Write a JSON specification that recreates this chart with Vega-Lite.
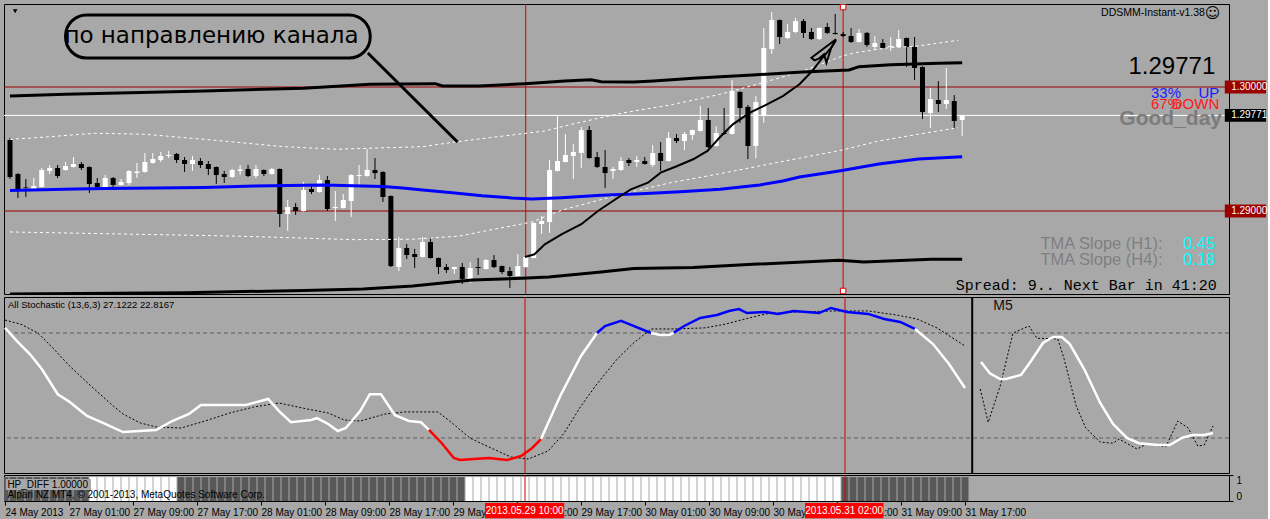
{
"$schema": "https://vega.github.io/schema/vega-lite/v6.json",
"background": "#a8a8a8",
"padding": {"left": 3, "top": 3, "right": 0, "bottom": 0},
"config": {
  "view": {"stroke": "#000000", "strokeWidth": 1, "fill": "#a8a8a8"},
  "axis": {"labelFont": "Liberation Sans", "labelFontSize": 10, "labelColor": "#000000", "tickColor": "#000000", "domain": false, "grid": false, "title": null},
  "text": {"font": "Liberation Sans"}
},
"datasets": {
  "one": [{}],
  "c": [
{"i":0,"o":1.29573,"h":1.29589,"l":1.29258,"c":1.29274,"hp":0},
{"i":1,"o":1.29298,"h":1.29306,"l":1.29105,"c":1.29177,"hp":0},
{"i":2,"o":1.29190,"h":1.29258,"l":1.29113,"c":1.29185,"hp":0},
{"i":3,"o":1.29177,"h":1.29266,"l":1.29170,"c":1.29202,"hp":0},
{"i":4,"o":1.29194,"h":1.29347,"l":1.29190,"c":1.29331,"hp":0},
{"i":5,"o":1.29323,"h":1.29371,"l":1.29298,"c":1.29347,"hp":0},
{"i":6,"o":1.29347,"h":1.29371,"l":1.29266,"c":1.29282,"hp":0},
{"i":7,"o":1.29331,"h":1.29395,"l":1.29325,"c":1.29363,"hp":0},
{"i":8,"o":1.29355,"h":1.29435,"l":1.29350,"c":1.29379,"hp":0},
{"i":9,"o":1.29379,"h":1.29395,"l":1.29331,"c":1.29347,"hp":0},
{"i":10,"o":1.29355,"h":1.29360,"l":1.29145,"c":1.29218,"hp":0},
{"i":11,"o":1.29226,"h":1.29266,"l":1.29190,"c":1.29194,"hp":1},
{"i":12,"o":1.29194,"h":1.29290,"l":1.29190,"c":1.29266,"hp":1},
{"i":13,"o":1.29266,"h":1.29274,"l":1.29185,"c":1.29210,"hp":1},
{"i":14,"o":1.29210,"h":1.29258,"l":1.29205,"c":1.29234,"hp":1},
{"i":15,"o":1.29226,"h":1.29328,"l":1.29210,"c":1.29323,"hp":1},
{"i":16,"o":1.29306,"h":1.29387,"l":1.29266,"c":1.29318,"hp":1},
{"i":17,"o":1.29315,"h":1.29468,"l":1.29310,"c":1.29395,"hp":1},
{"i":18,"o":1.29387,"h":1.29468,"l":1.29382,"c":1.29419,"hp":1},
{"i":19,"o":1.29411,"h":1.29476,"l":1.29395,"c":1.29444,"hp":1},
{"i":20,"o":1.29444,"h":1.29484,"l":1.29427,"c":1.29452,"hp":1},
{"i":21,"o":1.29460,"h":1.29468,"l":1.29387,"c":1.29411,"hp":1},
{"i":22,"o":1.29411,"h":1.29435,"l":1.29315,"c":1.29379,"hp":0},
{"i":23,"o":1.29379,"h":1.29444,"l":1.29323,"c":1.29411,"hp":0},
{"i":24,"o":1.29403,"h":1.29427,"l":1.29347,"c":1.29371,"hp":0},
{"i":25,"o":1.29379,"h":1.29403,"l":1.29290,"c":1.29339,"hp":0},
{"i":26,"o":1.29355,"h":1.29360,"l":1.29218,"c":1.29290,"hp":0},
{"i":27,"o":1.29298,"h":1.29323,"l":1.29226,"c":1.29274,"hp":0},
{"i":28,"o":1.29274,"h":1.29339,"l":1.29266,"c":1.29331,"hp":0},
{"i":29,"o":1.29323,"h":1.29371,"l":1.29290,"c":1.29335,"hp":0},
{"i":30,"o":1.29339,"h":1.29371,"l":1.29274,"c":1.29282,"hp":0},
{"i":31,"o":1.29282,"h":1.29371,"l":1.29266,"c":1.29339,"hp":0},
{"i":32,"o":1.29331,"h":1.29335,"l":1.29282,"c":1.29298,"hp":0},
{"i":33,"o":1.29298,"h":1.29347,"l":1.29294,"c":1.29339,"hp":0},
{"i":34,"o":1.29339,"h":1.29343,"l":1.28871,"c":1.28976,"hp":0},
{"i":35,"o":1.28976,"h":1.29089,"l":1.28839,"c":1.29032,"hp":0},
{"i":36,"o":1.29032,"h":1.29065,"l":1.28968,"c":1.29000,"hp":0},
{"i":37,"o":1.29000,"h":1.29234,"l":1.28995,"c":1.29169,"hp":0},
{"i":38,"o":1.29177,"h":1.29202,"l":1.29137,"c":1.29153,"hp":0},
{"i":39,"o":1.29153,"h":1.29290,"l":1.29148,"c":1.29250,"hp":0},
{"i":40,"o":1.29250,"h":1.29282,"l":1.29000,"c":1.29016,"hp":0},
{"i":41,"o":1.29024,"h":1.29161,"l":1.28919,"c":1.29032,"hp":0},
{"i":42,"o":1.29024,"h":1.29137,"l":1.29020,"c":1.29089,"hp":0},
{"i":43,"o":1.29081,"h":1.29298,"l":1.28952,"c":1.29290,"hp":0},
{"i":44,"o":1.29282,"h":1.29371,"l":1.29202,"c":1.29290,"hp":0},
{"i":45,"o":1.29282,"h":1.29500,"l":1.29278,"c":1.29331,"hp":0},
{"i":46,"o":1.29331,"h":1.29427,"l":1.29258,"c":1.29306,"hp":0},
{"i":47,"o":1.29315,"h":1.29320,"l":1.29073,"c":1.29113,"hp":0},
{"i":48,"o":1.29121,"h":1.29125,"l":1.28548,"c":1.28556,"hp":0},
{"i":49,"o":1.28548,"h":1.28790,"l":1.28516,"c":1.28702,"hp":0},
{"i":50,"o":1.28702,"h":1.28734,"l":1.28613,"c":1.28645,"hp":0},
{"i":51,"o":1.28653,"h":1.28694,"l":1.28540,"c":1.28629,"hp":0},
{"i":52,"o":1.28629,"h":1.28790,"l":1.28625,"c":1.28750,"hp":0},
{"i":53,"o":1.28750,"h":1.28790,"l":1.28617,"c":1.28621,"hp":0},
{"i":54,"o":1.28621,"h":1.28625,"l":1.28492,"c":1.28548,"hp":0},
{"i":55,"o":1.28548,"h":1.28573,"l":1.28500,"c":1.28524,"hp":0},
{"i":56,"o":1.28532,"h":1.28552,"l":1.28492,"c":1.28548,"hp":0},
{"i":57,"o":1.28548,"h":1.28581,"l":1.28411,"c":1.28452,"hp":0},
{"i":58,"o":1.28452,"h":1.28589,"l":1.28419,"c":1.28540,"hp":1},
{"i":59,"o":1.28548,"h":1.28621,"l":1.28484,"c":1.28540,"hp":1},
{"i":60,"o":1.28532,"h":1.28613,"l":1.28528,"c":1.28605,"hp":1},
{"i":61,"o":1.28605,"h":1.28645,"l":1.28540,"c":1.28548,"hp":1},
{"i":62,"o":1.28556,"h":1.28560,"l":1.28492,"c":1.28508,"hp":1},
{"i":63,"o":1.28516,"h":1.28548,"l":1.28379,"c":1.28476,"hp":1},
{"i":64,"o":1.28476,"h":1.28653,"l":1.28472,"c":1.28556,"hp":1},
{"i":65,"o":1.28548,"h":1.28633,"l":1.28544,"c":1.28629,"hp":1},
{"i":66,"o":1.28621,"h":1.28907,"l":1.28617,"c":1.28903,"hp":1},
{"i":67,"o":1.28895,"h":1.28960,"l":1.28815,"c":1.28919,"hp":1},
{"i":68,"o":1.28911,"h":1.29411,"l":1.28823,"c":1.29331,"hp":1},
{"i":69,"o":1.29323,"h":1.29774,"l":1.29319,"c":1.29403,"hp":1},
{"i":70,"o":1.29395,"h":1.29621,"l":1.29391,"c":1.29452,"hp":1},
{"i":71,"o":1.29444,"h":1.29540,"l":1.29258,"c":1.29476,"hp":1},
{"i":72,"o":1.29468,"h":1.29677,"l":1.29347,"c":1.29653,"hp":1},
{"i":73,"o":1.29653,"h":1.29685,"l":1.29423,"c":1.29427,"hp":1},
{"i":74,"o":1.29435,"h":1.29476,"l":1.29347,"c":1.29355,"hp":1},
{"i":75,"o":1.29355,"h":1.29492,"l":1.29185,"c":1.29306,"hp":1},
{"i":76,"o":1.29323,"h":1.29355,"l":1.29258,"c":1.29339,"hp":1},
{"i":77,"o":1.29331,"h":1.29435,"l":1.29323,"c":1.29403,"hp":1},
{"i":78,"o":1.29411,"h":1.29427,"l":1.29363,"c":1.29387,"hp":1},
{"i":79,"o":1.29395,"h":1.29444,"l":1.29355,"c":1.29411,"hp":1},
{"i":80,"o":1.29403,"h":1.29435,"l":1.29375,"c":1.29379,"hp":1},
{"i":81,"o":1.29371,"h":1.29532,"l":1.29355,"c":1.29468,"hp":1},
{"i":82,"o":1.29468,"h":1.29556,"l":1.29323,"c":1.29403,"hp":1},
{"i":83,"o":1.29403,"h":1.29637,"l":1.29399,"c":1.29589,"hp":1},
{"i":84,"o":1.29589,"h":1.29621,"l":1.29548,"c":1.29564,"hp":1},
{"i":85,"o":1.29564,"h":1.29637,"l":1.29492,"c":1.29621,"hp":1},
{"i":86,"o":1.29613,"h":1.29657,"l":1.29573,"c":1.29653,"hp":1},
{"i":87,"o":1.29645,"h":1.29847,"l":1.29641,"c":1.29734,"hp":1},
{"i":88,"o":1.29734,"h":1.29831,"l":1.29508,"c":1.29516,"hp":1},
{"i":89,"o":1.29524,"h":1.29685,"l":1.29520,"c":1.29629,"hp":1},
{"i":90,"o":1.29629,"h":1.29831,"l":1.29617,"c":1.29621,"hp":1},
{"i":91,"o":1.29621,"h":1.30056,"l":1.29617,"c":1.29968,"hp":1},
{"i":92,"o":1.29960,"h":1.29964,"l":1.29710,"c":1.29831,"hp":1},
{"i":93,"o":1.29839,"h":1.29855,"l":1.29419,"c":1.29524,"hp":1},
{"i":94,"o":1.29524,"h":1.29927,"l":1.29427,"c":1.29879,"hp":1},
{"i":95,"o":1.29766,"h":1.30476,"l":1.29710,"c":1.30315,"hp":1},
{"i":96,"o":1.30306,"h":1.30605,"l":1.30266,"c":1.30540,"hp":1},
{"i":97,"o":1.30540,"h":1.30544,"l":1.30347,"c":1.30403,"hp":1},
{"i":98,"o":1.30395,"h":1.30508,"l":1.30387,"c":1.30444,"hp":1},
{"i":99,"o":1.30444,"h":1.30556,"l":1.30436,"c":1.30532,"hp":1},
{"i":100,"o":1.30532,"h":1.30548,"l":1.30395,"c":1.30436,"hp":1},
{"i":101,"o":1.30444,"h":1.30476,"l":1.30379,"c":1.30387,"hp":1},
{"i":102,"o":1.30387,"h":1.30480,"l":1.30379,"c":1.30476,"hp":1},
{"i":103,"o":1.30484,"h":1.30516,"l":1.30427,"c":1.30436,"hp":1},
{"i":104,"o":1.30436,"h":1.30589,"l":1.30423,"c":1.30427,"hp":1},
{"i":105,"o":1.30427,"h":1.30444,"l":1.30403,"c":1.30411,"hp":0},
{"i":106,"o":1.30411,"h":1.30476,"l":1.30355,"c":1.30363,"hp":0},
{"i":107,"o":1.30363,"h":1.30468,"l":1.30359,"c":1.30436,"hp":0},
{"i":108,"o":1.30436,"h":1.30444,"l":1.30323,"c":1.30339,"hp":0},
{"i":109,"o":1.30323,"h":1.30411,"l":1.30298,"c":1.30355,"hp":0},
{"i":110,"o":1.30355,"h":1.30387,"l":1.30311,"c":1.30315,"hp":0},
{"i":111,"o":1.30323,"h":1.30403,"l":1.30290,"c":1.30331,"hp":0},
{"i":112,"o":1.30323,"h":1.30460,"l":1.30315,"c":1.30387,"hp":0},
{"i":113,"o":1.30395,"h":1.30399,"l":1.30161,"c":1.30323,"hp":0},
{"i":114,"o":1.30323,"h":1.30403,"l":1.30056,"c":1.30153,"hp":0},
{"i":115,"o":1.30161,"h":1.30169,"l":1.29742,"c":1.29798,"hp":0},
{"i":116,"o":1.29790,"h":1.29992,"l":1.29669,"c":1.29903,"hp":0},
{"i":117,"o":1.29895,"h":1.30048,"l":1.29798,"c":1.29863,"hp":0},
{"i":118,"o":1.29863,"h":1.30153,"l":1.29823,"c":1.29895,"hp":0},
{"i":119,"o":1.29887,"h":1.29935,"l":1.29661,"c":1.29726,"hp":0},
{"i":120,"o":1.29734,"h":1.29774,"l":1.29605,"c":1.29771,"hp":0}
  ],
  "ln": [
{"k":"mid","i":0,"p":1.29165},{"k":"mid","i":8.25,"p":1.29177},{"k":"mid","i":12,"p":1.29181},{"k":"mid","i":24.5,"p":1.29190},{"k":"mid","i":30.75,"p":1.29202},{"k":"mid","i":39.5,"p":1.29210},{"k":"mid","i":47,"p":1.29198},{"k":"mid","i":49.5,"p":1.29185},{"k":"mid","i":52,"p":1.29169},{"k":"mid","i":55.75,"p":1.29148},{"k":"mid","i":59.5,"p":1.29123},{"k":"mid","i":63.25,"p":1.29105},{"k":"mid","i":65.75,"p":1.29097},{"k":"mid","i":69.5,"p":1.29107},{"k":"mid","i":74.5,"p":1.29127},{"k":"mid","i":79.5,"p":1.29140},{"k":"mid","i":84.5,"p":1.29156},{"k":"mid","i":89.5,"p":1.29175},{"k":"mid","i":94.5,"p":1.29210},{"k":"mid","i":97.4,"p":1.29242},{"k":"mid","i":99.5,"p":1.29274},{"k":"mid","i":104.5,"p":1.29323},{"k":"mid","i":109.5,"p":1.29379},{"k":"mid","i":114.5,"p":1.29419},{"k":"mid","i":120,"p":1.29438},
{"k":"up","i":0,"p":1.29927},{"k":"up","i":7,"p":1.29941},{"k":"up","i":24.5,"p":1.29968},{"k":"up","i":37,"p":1.29990},{"k":"up","i":45.4,"p":1.30022},{"k":"up","i":53.6,"p":1.30027},{"k":"up","i":54.5,"p":1.30008},{"k":"up","i":59.1,"p":1.30008},{"k":"up","i":64.9,"p":1.30027},{"k":"up","i":69.9,"p":1.30048},{"k":"up","i":73.25,"p":1.30059},{"k":"up","i":74.5,"p":1.30043},{"k":"up","i":78.6,"p":1.30040},{"k":"up","i":81.1,"p":1.30048},{"k":"up","i":86.1,"p":1.30070},{"k":"up","i":93.6,"p":1.30097},{"k":"up","i":99.9,"p":1.30121},{"k":"up","i":105.75,"p":1.30137},{"k":"up","i":107,"p":1.30164},{"k":"up","i":111,"p":1.30180},{"k":"up","i":117,"p":1.30191},{"k":"up","i":120,"p":1.30196},
{"k":"lo","i":0,"p":1.28331},{"k":"lo","i":22,"p":1.28341},{"k":"lo","i":37,"p":1.28359},{"k":"lo","i":44.5,"p":1.28371},{"k":"lo","i":50.75,"p":1.28395},{"k":"lo","i":54.5,"p":1.28419},{"k":"lo","i":58.25,"p":1.28444},{"k":"lo","i":64.5,"p":1.28457},{"k":"lo","i":67.9,"p":1.28468},{"k":"lo","i":74.5,"p":1.28508},{"k":"lo","i":78.6,"p":1.28536},{"k":"lo","i":86.1,"p":1.28544},{"k":"lo","i":93.6,"p":1.28570},{"k":"lo","i":104.5,"p":1.28602},{"k":"lo","i":107.6,"p":1.28589},{"k":"lo","i":116.1,"p":1.28610},{"k":"lo","i":120,"p":1.28610},
{"k":"bu","i":0,"p":1.29578},{"k":"bu","i":3.25,"p":1.29591},{"k":"bu","i":10.75,"p":1.29627},{"k":"bu","i":17,"p":1.29619},{"k":"bu","i":24.5,"p":1.29578},{"k":"bu","i":34.5,"p":1.29519},{"k":"bu","i":41.1,"p":1.29498},{"k":"bu","i":52,"p":1.29519},{"k":"bu","i":56.4,"p":1.29559},{"k":"bu","i":60.4,"p":1.29591},{"k":"bu","i":67.4,"p":1.29645},{"k":"bu","i":70.75,"p":1.29699},{"k":"bu","i":77,"p":1.29788},{"k":"bu","i":83.6,"p":1.29860},{"k":"bu","i":89.5,"p":1.29941},{"k":"bu","i":94.9,"p":1.30035},{"k":"bu","i":99.9,"p":1.30129},{"k":"bu","i":104.9,"p":1.30250},{"k":"bu","i":106.6,"p":1.30277},{"k":"bu","i":110.75,"p":1.30317},{"k":"bu","i":114.5,"p":1.30331},{"k":"bu","i":119.5,"p":1.30377},
{"k":"bl","i":0,"p":1.28831},{"k":"bl","i":12,"p":1.28817},{"k":"bl","i":28.25,"p":1.28798},{"k":"bl","i":43.25,"p":1.28769},{"k":"bl","i":50.75,"p":1.28772},{"k":"bl","i":56.6,"p":1.28798},{"k":"bl","i":61.6,"p":1.28860},{"k":"bl","i":65.75,"p":1.28911},{"k":"bl","i":69.5,"p":1.29006},{"k":"bl","i":77,"p":1.29135},{"k":"bl","i":83.25,"p":1.29228},{"k":"bl","i":89.5,"p":1.29301},{"k":"bl","i":97,"p":1.29395},{"k":"bl","i":104.9,"p":1.29492},{"k":"bl","i":109.5,"p":1.29565},{"k":"bl","i":114.5,"p":1.29619},{"k":"bl","i":119.5,"p":1.29672},
{"k":"trend","i":64.9,"p":1.28629},{"k":"trend","i":66.1,"p":1.28651},{"k":"trend","i":67.4,"p":1.28731},{"k":"trend","i":69.5,"p":1.28812},{"k":"trend","i":72,"p":1.28893},{"k":"trend","i":74.1,"p":1.29000},{"k":"trend","i":76.6,"p":1.29107},{"k":"trend","i":78.25,"p":1.29175},{"k":"trend","i":80.4,"p":1.29228},{"k":"trend","i":82,"p":1.29309},{"k":"trend","i":84.1,"p":1.29363},{"k":"trend","i":86.1,"p":1.29417},{"k":"trend","i":87.9,"p":1.29484},{"k":"trend","i":89.5,"p":1.29597},{"k":"trend","i":91.1,"p":1.29699},{"k":"trend","i":93.25,"p":1.29793},{"k":"trend","i":95.4,"p":1.29860},{"k":"trend","i":97.4,"p":1.29927},{"k":"trend","i":99.5,"p":1.30022},{"k":"trend","i":101.1,"p":1.30129},{"k":"trend","i":102.4,"p":1.30236},{"k":"trend","i":103.5,"p":1.30317},{"k":"trend","i":104.1,"p":1.30377},
{"k":"arrow","n":0,"i":104.1,"p":1.30385},{"k":"arrow","n":1,"i":101,"p":1.30236},{"k":"arrow","n":2,"i":101.4,"p":1.30215},{"k":"arrow","n":3,"i":102,"p":1.30231},{"k":"arrow","n":4,"i":102.6,"p":1.30264},{"k":"arrow","n":5,"i":102.9,"p":1.30196},{"k":"arrow","n":6,"i":103.5,"p":1.30317},{"k":"arrow","n":7,"i":104.1,"p":1.30385},
{"k":"lead","i":45.1,"p":1.30274},{"k":"lead","i":56.4,"p":1.29556}
  ],
  "st": [
{"g":"a","k":"main","i":0,"v":82.9},{"g":"a","k":"main","i":1.5,"v":75.4},{"g":"a","k":"main","i":3.1,"v":68},{"g":"a","k":"main","i":4.6,"v":59.4},{"g":"a","k":"main","i":6.6,"v":45},{"g":"a","k":"main","i":8.1,"v":40.6},{"g":"a","k":"main","i":10.25,"v":32.6},{"g":"a","k":"main","i":12.25,"v":28.6},{"g":"a","k":"main","i":14.75,"v":23.4},{"g":"a","k":"main","i":18.9,"v":24.6},{"g":"a","k":"main","i":20.9,"v":29.7},{"g":"a","k":"main","i":23,"v":33.7},{"g":"a","k":"main","i":24.5,"v":38.9},{"g":"a","k":"main","i":30.1,"v":38.9},{"g":"a","k":"main","i":32.9,"v":42.3},{"g":"a","k":"main","i":34.25,"v":35.4},{"g":"a","k":"main","i":35.75,"v":29},{"g":"a","k":"main","i":38.25,"v":30.3},{"g":"a","k":"main","i":39,"v":31.4},{"g":"a","k":"main","i":40.4,"v":28},{"g":"a","k":"main","i":41.6,"v":24},{"g":"a","k":"main","i":42.6,"v":25.7},{"g":"a","k":"main","i":44.4,"v":35.4},{"g":"a","k":"main","i":45.6,"v":45},{"g":"a","k":"main","i":47,"v":45},{"g":"a","k":"main","i":48.75,"v":33},{"g":"a","k":"main","i":50.5,"v":29.7},{"g":"a","k":"main","i":52,"v":29},{"g":"a","k":"main","i":53,"v":24.6},
{"g":"b","k":"down","i":53,"v":24.6},{"g":"b","k":"down","i":54.6,"v":17},{"g":"b","k":"down","i":56.1,"v":8.6},{"g":"b","k":"down","i":56.9,"v":7.4},{"g":"b","k":"down","i":58.6,"v":8},{"g":"b","k":"down","i":60.5,"v":8.6},{"g":"b","k":"down","i":62.75,"v":7.4},{"g":"b","k":"down","i":64.5,"v":9.7},{"g":"b","k":"down","i":65.9,"v":14.3},{"g":"b","k":"down","i":67,"v":19.4},
{"g":"c","k":"main","i":67,"v":19.4},{"g":"c","k":"main","i":69.4,"v":44},{"g":"c","k":"main","i":72,"v":66.9},{"g":"c","k":"main","i":74,"v":80},
{"g":"d","k":"up","i":74,"v":80},{"g":"d","k":"up","i":75,"v":84},{"g":"d","k":"up","i":77,"v":86.9},{"g":"d","k":"up","i":78.25,"v":84.6},{"g":"d","k":"up","i":80.75,"v":80},
{"g":"e","k":"main","i":80.75,"v":80},{"g":"e","k":"main","i":81.9,"v":78.9},{"g":"e","k":"main","i":83.1,"v":79},{"g":"e","k":"main","i":83.6,"v":80.2},
{"g":"f","k":"up","i":83.6,"v":80.2},{"g":"f","k":"up","i":84.9,"v":84},{"g":"f","k":"up","i":86.9,"v":88.6},{"g":"f","k":"up","i":89,"v":90.3},{"g":"f","k":"up","i":90.5,"v":92.6},{"g":"f","k":"up","i":91.75,"v":93.7},{"g":"f","k":"up","i":92.75,"v":91.4},{"g":"f","k":"up","i":95.1,"v":92},{"g":"f","k":"up","i":96.6,"v":90.9},{"g":"f","k":"up","i":98.6,"v":92.6},{"g":"f","k":"up","i":101.75,"v":91.4},{"g":"f","k":"up","i":103.25,"v":94.3},{"g":"f","k":"up","i":105.25,"v":92},{"g":"f","k":"up","i":107.9,"v":90.9},{"g":"f","k":"up","i":109.9,"v":88},{"g":"f","k":"up","i":111.9,"v":86.3},{"g":"f","k":"up","i":113.75,"v":82.3},
{"g":"h","k":"main","i":113.75,"v":82.3},{"g":"h","k":"main","i":116,"v":73.7},{"g":"h","k":"main","i":118,"v":62.3},{"g":"h","k":"main","i":120,"v":48.6},
{"g":"m","k":"main","i":122,"v":63.4},{"g":"m","k":"main","i":123.1,"v":57},{"g":"m","k":"main","i":124.4,"v":53.7},{"g":"m","k":"main","i":125.1,"v":53.7},{"g":"m","k":"main","i":127,"v":56},{"g":"m","k":"main","i":128.25,"v":64},{"g":"m","k":"main","i":129.75,"v":74.3},{"g":"m","k":"main","i":131,"v":77.7},{"g":"m","k":"main","i":132.1,"v":77.7},{"g":"m","k":"main","i":133.1,"v":73.7},{"g":"m","k":"main","i":134.9,"v":59.4},{"g":"m","k":"main","i":136.9,"v":40},{"g":"m","k":"main","i":138.5,"v":28},{"g":"m","k":"main","i":140.25,"v":20},{"g":"m","k":"main","i":141.75,"v":17},{"g":"m","k":"main","i":144.1,"v":16},{"g":"m","k":"main","i":145.6,"v":16},{"g":"m","k":"main","i":147.1,"v":20},{"g":"m","k":"main","i":148.4,"v":21.7},{"g":"m","k":"main","i":149.9,"v":21.7},{"g":"m","k":"main","i":151,"v":22.9},
{"g":"s","k":"sig","i":0,"v":87.4},{"g":"s","k":"sig","i":2,"v":85},{"g":"s","k":"sig","i":4.1,"v":80},{"g":"s","k":"sig","i":6.1,"v":70.9},{"g":"s","k":"sig","i":8.1,"v":61},{"g":"s","k":"sig","i":10.75,"v":49.7},{"g":"s","k":"sig","i":13.25,"v":39.4},{"g":"s","k":"sig","i":14.75,"v":33.7},{"g":"s","k":"sig","i":16.9,"v":28.6},{"g":"s","k":"sig","i":18.9,"v":26.3},{"g":"s","k":"sig","i":22,"v":25.7},{"g":"s","k":"sig","i":25,"v":29.7},{"g":"s","k":"sig","i":28.1,"v":34.3},{"g":"s","k":"sig","i":31.1,"v":37.7},{"g":"s","k":"sig","i":34.25,"v":40},{"g":"s","k":"sig","i":37.75,"v":36.6},{"g":"s","k":"sig","i":40.4,"v":34.3},{"g":"s","k":"sig","i":42.4,"v":30.3},{"g":"s","k":"sig","i":44.4,"v":29.7},{"g":"s","k":"sig","i":47.5,"v":33.7},{"g":"s","k":"sig","i":50,"v":34.9},{"g":"s","k":"sig","i":54.1,"v":34.9},{"g":"s","k":"sig","i":55.6,"v":29.7},{"g":"s","k":"sig","i":58.1,"v":20},{"g":"s","k":"sig","i":60.75,"v":14.3},{"g":"s","k":"sig","i":63.25,"v":9.1},{"g":"s","k":"sig","i":65.4,"v":8},{"g":"s","k":"sig","i":67.9,"v":12.6},{"g":"s","k":"sig","i":69.9,"v":22.9},{"g":"s","k":"sig","i":72,"v":38.3},{"g":"s","k":"sig","i":74,"v":50.9},{"g":"s","k":"sig","i":76.5,"v":65},{"g":"s","k":"sig","i":78.5,"v":74},{"g":"s","k":"sig","i":80.75,"v":82.3},{"g":"s","k":"sig","i":83.4,"v":82.3},{"g":"s","k":"sig","i":87.4,"v":82.9},{"g":"s","k":"sig","i":90,"v":85},{"g":"s","k":"sig","i":92.5,"v":88},{"g":"s","k":"sig","i":95.1,"v":90.9},{"g":"s","k":"sig","i":98.6,"v":92},{"g":"s","k":"sig","i":103.75,"v":92.6},{"g":"s","k":"sig","i":107.9,"v":92.6},{"g":"s","k":"sig","i":111.4,"v":90.3},{"g":"s","k":"sig","i":114,"v":88},{"g":"s","k":"sig","i":116.5,"v":82.9},{"g":"s","k":"sig","i":118.5,"v":77},{"g":"s","k":"sig","i":120,"v":72.6},
{"g":"t","k":"sig","i":121.9,"v":48},{"g":"t","k":"sig","i":122.9,"v":29},{"g":"t","k":"sig","i":124.4,"v":49.7},{"g":"t","k":"sig","i":126,"v":80},{"g":"t","k":"sig","i":128,"v":84},{"g":"t","k":"sig","i":129,"v":77},{"g":"t","k":"sig","i":131.6,"v":76.6},{"g":"t","k":"sig","i":132.4,"v":65},{"g":"t","k":"sig","i":133.9,"v":38.3},{"g":"t","k":"sig","i":135.1,"v":25.7},{"g":"t","k":"sig","i":136.9,"v":17.7},{"g":"t","k":"sig","i":138.5,"v":17},{"g":"t","k":"sig","i":139.25,"v":19.4},{"g":"t","k":"sig","i":141.5,"v":13.7},{"g":"t","k":"sig","i":142.75,"v":16.6},{"g":"t","k":"sig","i":145.1,"v":14.9},{"g":"t","k":"sig","i":146.6,"v":29.7},{"g":"t","k":"sig","i":147.9,"v":25.7},{"g":"t","k":"sig","i":149.1,"v":15.4},{"g":"t","k":"sig","i":149.9,"v":16},{"g":"t","k":"sig","i":151,"v":26.9}
  ]
},
"spacing": 3,
"bounds": "flush",
"vconcat": [
{
  "width": 1225, "height": 290,
  "data": {"name": "c"},
  "layer": [
    {"data": {"name": "one"}, "mark": {"type": "rule", "color": "#9b0000", "strokeWidth": 1}, "encoding": {"y": {"datum": 1.3}}},
    {"data": {"name": "one"}, "mark": {"type": "rule", "color": "#9b0000", "strokeWidth": 1}, "encoding": {"y": {"datum": 1.29}}},
    {"data": {"name": "one"}, "mark": {"type": "rule", "color": "#ffffff", "strokeWidth": 1}, "encoding": {"y": {"datum": 1.29771}}},
    {"data": {"name": "one"}, "mark": {"type": "rule", "color": "#d40000", "strokeWidth": 1}, "encoding": {"x": {"datum": 65}}},
    {"data": {"name": "one"}, "mark": {"type": "rule", "color": "#d40000", "strokeWidth": 1}, "encoding": {"x": {"datum": 105}}},
    {"mark": {"type": "rule", "strokeWidth": 1, "clip": true},
     "encoding": {
       "x": {"field": "i", "type": "quantitative", "scale": {"domain": [-0.125, 153], "nice": false, "zero": false}, "axis": null},
       "y": {"field": "l", "type": "quantitative", "title": null, "scale": {"domain": [1.283306, 1.306694], "nice": false, "zero": false},
             "axis": {"orient": "right", "values": [1.2834, 1.28605, 1.28875, 1.2914, 1.2941, 1.29675, 1.29945, 1.3021, 1.3048], "format": ".5f", "tickSize": 4, "labelPadding": 3, "labelOverlap": false, "title": null}},
       "y2": {"field": "h"},
       "color": {"condition": {"test": "datum.c >= datum.o", "value": "#ffffff"}, "value": "#000000"}
     }},
    {"mark": {"type": "bar", "size": 5, "clip": true},
     "encoding": {
       "x": {"field": "i", "type": "quantitative", "axis": null},
       "y": {"field": "o", "type": "quantitative", "axis": null, "title": null},
       "y2": {"field": "c"},
       "color": {"condition": {"test": "datum.c >= datum.o", "value": "#ffffff"}, "value": "#000000"}
     }},
    {"data": {"name": "ln"}, "transform": [{"filter": "datum.k == 'bu' || datum.k == 'bl'"}],
     "mark": {"type": "line", "color": "#ffffff", "strokeWidth": 1, "strokeDash": [3, 3], "clip": true},
     "encoding": {"x": {"field": "i", "type": "quantitative", "axis": null}, "y": {"field": "p", "type": "quantitative", "axis": null, "title": null}, "detail": {"field": "k"}}},
    {"data": {"name": "ln"}, "transform": [{"filter": "datum.k == 'up' || datum.k == 'lo'"}],
     "mark": {"type": "line", "color": "#000000", "strokeWidth": 3, "clip": true},
     "encoding": {"x": {"field": "i", "type": "quantitative", "axis": null}, "y": {"field": "p", "type": "quantitative", "axis": null, "title": null}, "detail": {"field": "k"}}},
    {"data": {"name": "ln"}, "transform": [{"filter": "datum.k == 'mid'"}],
     "mark": {"type": "line", "color": "#0000ff", "strokeWidth": 3, "clip": true},
     "encoding": {"x": {"field": "i", "type": "quantitative", "axis": null}, "y": {"field": "p", "type": "quantitative", "axis": null, "title": null}}},
    {"data": {"name": "ln"}, "transform": [{"filter": "datum.k == 'trend'"}],
     "mark": {"type": "line", "color": "#000000", "strokeWidth": 2},
     "encoding": {"x": {"field": "i", "type": "quantitative", "axis": null}, "y": {"field": "p", "type": "quantitative", "axis": null, "title": null}}},
    {"data": {"name": "ln"}, "transform": [{"filter": "datum.k == 'arrow'"}],
     "mark": {"type": "line", "color": "#000000", "strokeWidth": 2},
     "encoding": {"x": {"field": "i", "type": "quantitative", "axis": null}, "y": {"field": "p", "type": "quantitative", "axis": null, "title": null}, "order": {"field": "n"}}},
    {"data": {"name": "ln"}, "transform": [{"filter": "datum.k == 'lead'"}],
     "mark": {"type": "line", "color": "#000000", "strokeWidth": 3},
     "encoding": {"x": {"field": "i", "type": "quantitative", "axis": null}, "y": {"field": "p", "type": "quantitative", "axis": null, "title": null}}},
    {"data": {"name": "one"}, "mark": {"type": "rect", "fill": "transparent", "stroke": "#000000", "strokeWidth": 3, "cornerRadius": 21},
     "encoding": {"x": {"datum": 7}, "x2": {"datum": 45.4}, "y": {"datum": 1.30581}, "y2": {"datum": 1.30234}}},
    {"data": {"name": "one"}, "mark": {"type": "point", "shape": "triangle-down", "size": 22, "filled": true, "color": "#000000", "opacity": 1},
     "encoding": {"x": {"datum": 0.65}, "y": {"datum": 1.30611}}},
    {"data": {"name": "one"}, "mark": {"type": "text", "text": "по направлению канала", "font": "DejaVu Sans", "fontSize": 23, "color": "#000000", "align": "center", "baseline": "middle"},
     "encoding": {"x": {"datum": 25.4}, "y": {"datum": 1.30411}}},
    {"data": {"name": "one"}, "mark": {"type": "text", "text": "DDSMM-Instant-v1.38", "fontSize": 10.5, "color": "#000000", "align": "right", "baseline": "middle"},
     "encoding": {"x": {"datum": 150.6}, "y": {"datum": 1.30597}}},
    {"data": {"name": "one"}, "mark": {"type": "text", "text": "☺", "font": "DejaVu Sans", "fontSize": 15, "color": "#000000", "align": "center", "baseline": "middle"},
     "encoding": {"x": {"datum": 151.55}, "y": {"datum": 1.30595}}},
    {"data": {"name": "one"}, "mark": {"type": "text", "text": "1.29771", "fontSize": 24, "color": "#000000", "align": "right", "baseline": "middle"},
     "encoding": {"x": {"datum": 151.9}, "y": {"datum": 1.30161}}},
    {"data": {"name": "one"}, "mark": {"type": "text", "text": "33%", "fontSize": 15, "color": "#1a1aff", "align": "left", "baseline": "middle"},
     "encoding": {"x": {"datum": 143.8}, "y": {"datum": 1.29952}}},
    {"data": {"name": "one"}, "mark": {"type": "text", "text": "UP", "fontSize": 15, "color": "#1a1aff", "align": "right", "baseline": "middle"},
     "encoding": {"x": {"datum": 152.4}, "y": {"datum": 1.29952}}},
    {"data": {"name": "one"}, "mark": {"type": "text", "text": "67%", "fontSize": 15, "color": "#ff1a1a", "align": "left", "baseline": "middle"},
     "encoding": {"x": {"datum": 143.8}, "y": {"datum": 1.29863}}},
    {"data": {"name": "one"}, "mark": {"type": "text", "text": "DOWN", "fontSize": 15, "color": "#ff1a1a", "align": "right", "baseline": "middle"},
     "encoding": {"x": {"datum": 152.4}, "y": {"datum": 1.29863}}},
    {"data": {"name": "one"}, "mark": {"type": "text", "text": "Good_day", "fontSize": 21, "fontWeight": "bold", "color": "#7c7c7c", "align": "right", "baseline": "middle"},
     "encoding": {"x": {"datum": 152.75}, "y": {"datum": 1.29742}}},
    {"data": {"name": "one"}, "mark": {"type": "text", "text": "TMA Slope (H1):", "fontSize": 16.5, "color": "#7f7f7f", "align": "right", "baseline": "middle"},
     "encoding": {"x": {"datum": 145.25}, "y": {"datum": 1.2873}}},
    {"data": {"name": "one"}, "mark": {"type": "text", "text": "0.45", "fontSize": 16.5, "color": "#00ffff", "align": "right", "baseline": "middle"},
     "encoding": {"x": {"datum": 151.9}, "y": {"datum": 1.2873}}},
    {"data": {"name": "one"}, "mark": {"type": "text", "text": "TMA Slope (H4):", "fontSize": 16.5, "color": "#7f7f7f", "align": "right", "baseline": "middle"},
     "encoding": {"x": {"datum": 145.25}, "y": {"datum": 1.28601}}},
    {"data": {"name": "one"}, "mark": {"type": "text", "text": "0.18", "fontSize": 16.5, "color": "#00ffff", "align": "right", "baseline": "middle"},
     "encoding": {"x": {"datum": 151.9}, "y": {"datum": 1.28601}}},
    {"data": {"name": "one"}, "mark": {"type": "text", "text": "Spread: 9.. Next Bar in 41:20", "font": "Liberation Mono", "fontSize": 15, "color": "#000000", "align": "right", "baseline": "middle"},
     "encoding": {"x": {"datum": 152.1}, "y": {"datum": 1.28403}}},
    {"data": {"name": "one"}, "mark": {"type": "rect", "fill": "#9b0000"},
     "encoding": {"x": {"datum": 153.1}, "x2": {"datum": 158.3}, "y": {"datum": 1.30052}, "y2": {"datum": 1.29948}}},
    {"data": {"name": "one"}, "mark": {"type": "rect", "fill": "#000000"},
     "encoding": {"x": {"datum": 153.1}, "x2": {"datum": 158.3}, "y": {"datum": 1.29823}, "y2": {"datum": 1.29719}}},
    {"data": {"name": "one"}, "mark": {"type": "rect", "fill": "#9b0000"},
     "encoding": {"x": {"datum": 153.1}, "x2": {"datum": 158.3}, "y": {"datum": 1.29052}, "y2": {"datum": 1.28948}}},
    {"data": {"name": "one"}, "mark": {"type": "text", "text": "1.30000", "fontSize": 10, "color": "#ffffff", "align": "left", "baseline": "middle"},
     "encoding": {"x": {"datum": 153.9}, "y": {"datum": 1.3}}},
    {"data": {"name": "one"}, "mark": {"type": "text", "text": "1.29771", "fontSize": 10, "color": "#ffffff", "align": "left", "baseline": "middle"},
     "encoding": {"x": {"datum": 153.9}, "y": {"datum": 1.29771}}},
    {"data": {"name": "one"}, "mark": {"type": "text", "text": "1.29000", "fontSize": 10, "color": "#ffffff", "align": "left", "baseline": "middle"},
     "encoding": {"x": {"datum": 153.9}, "y": {"datum": 1.29}}},
    {"data": {"name": "one"}, "mark": {"type": "point", "shape": "square", "size": 30, "filled": true, "fill": "#ffffff", "stroke": "#e00000", "strokeWidth": 1, "opacity": 1, "clip": true},
     "encoding": {"x": {"datum": 105}, "y": {"datum": 1.30645}}},
    {"data": {"name": "one"}, "mark": {"type": "point", "shape": "square", "size": 30, "filled": true, "fill": "#ffffff", "stroke": "#e00000", "strokeWidth": 1, "opacity": 1, "clip": true},
     "encoding": {"x": {"datum": 105}, "y": {"datum": 1.28355}}}
  ]
},
{
  "spacing": 2,
  "bounds": "flush",
  "vconcat": [
  {
    "width": 1225, "height": 176,
    "data": {"name": "st"},
    "layer": [
      {"data": {"name": "one"}, "mark": {"type": "rule", "color": "#5e5e5e", "strokeWidth": 1, "strokeDash": [4, 3]}, "encoding": {"y": {"datum": 80}}},
      {"data": {"name": "one"}, "mark": {"type": "rule", "color": "#5e5e5e", "strokeWidth": 1, "strokeDash": [4, 3]}, "encoding": {"y": {"datum": 20}}},
      {"data": {"name": "one"}, "mark": {"type": "rule", "color": "#d40000", "strokeWidth": 1}, "encoding": {"x": {"datum": 65}}},
      {"data": {"name": "one"}, "mark": {"type": "rule", "color": "#d40000", "strokeWidth": 1}, "encoding": {"x": {"datum": 105}}},
      {"data": {"name": "one"}, "mark": {"type": "rule", "color": "#000000", "strokeWidth": 2}, "encoding": {"x": {"datum": 120.9}}},
      {"transform": [{"filter": "datum.k == 'sig'"}],
       "mark": {"type": "line", "color": "#000000", "strokeWidth": 1, "strokeDash": [2, 2], "clip": true},
       "encoding": {
         "x": {"field": "i", "type": "quantitative", "scale": {"domain": [-0.125, 153], "nice": false, "zero": false}, "axis": null},
         "y": {"field": "v", "type": "quantitative", "title": null, "scale": {"domain": [0, 100.57], "nice": false, "zero": false},
               "axis": {"orient": "right", "values": [0, 20, 80, 100], "tickSize": 4, "labelPadding": 3, "labelFlush": true, "labelOverlap": false, "title": null}},
         "detail": {"field": "g"}
       }},
      {"transform": [{"filter": "datum.k != 'sig'"}],
       "mark": {"type": "line", "strokeWidth": 2.5, "clip": true},
       "encoding": {
         "x": {"field": "i", "type": "quantitative", "axis": null},
         "y": {"field": "v", "type": "quantitative", "axis": null, "title": null},
         "detail": {"field": "g"},
         "color": {"field": "k", "type": "nominal", "scale": {"domain": ["main", "up", "down"], "range": ["#ffffff", "#0000ff", "#ff0000"]}, "legend": null}
       }},
      {"data": {"name": "one"}, "mark": {"type": "text", "text": "All Stochastic (13,6,3) 27.1222 22.8167", "fontSize": 9.5, "color": "#000000", "align": "left", "baseline": "middle"},
       "encoding": {"x": {"datum": 0.375}, "y": {"datum": 96}}},
      {"data": {"name": "one"}, "mark": {"type": "text", "text": "M5", "fontSize": 14, "color": "#111111", "align": "center", "baseline": "middle"},
       "encoding": {"x": {"datum": 124.75}, "y": {"datum": 95.4}}}
    ]
  },
  {
    "width": 1225, "height": 26,
    "data": {"name": "c"},
    "layer": [
      {"mark": {"type": "rule", "strokeWidth": 7, "clip": true},
       "encoding": {
         "x": {"field": "i", "type": "quantitative", "scale": {"domain": [-0.125, 153], "nice": false, "zero": false},
               "axis": {"values": [0, 8, 16, 24, 32, 40, 48, 56, 64, 72, 80, 88, 96, 104, 112, 120],
                        "labelExpr": "['24 May 2013','27 May 01:00','27 May 09:00','27 May 17:00','28 May 01:00','28 May 09:00','28 May 17:00','29 May 01:00','29 May 09:00','29 May 17:00','30 May 01:00','30 May 09:00','30 May 17:00','31 May 01:00','31 May 09:00','31 May 17:00'][round(datum.value/8)]",
                        "labelAlign": "left", "labelBaseline": "top", "labelOffset": 0, "labelPadding": 2, "tickSize": 4, "labelOverlap": false, "labelFlush": false, "labelBound": false, "title": null}},
         "y": {"datum": 0, "type": "quantitative", "scale": {"domain": [0, 1], "nice": false, "zero": false},
               "axis": {"orient": "right", "values": [0, 1], "format": "d", "tickSize": 4, "labelPadding": 3, "labelFlush": true, "labelOverlap": false, "title": null}},
         "y2": {"datum": 0.92},
         "color": {"condition": {"test": "datum.hp == 1", "value": "#ffffff"}, "value": "#585858"}
       }},
      {"data": {"name": "one"}, "mark": {"type": "rect", "fill": "#a8a8a8"},
       "encoding": {"x": {"datum": 0.1}, "x2": {"datum": 10.75}, "y": {"datum": 0.42}, "y2": {"datum": 0.85}}},
      {"data": {"name": "one"}, "mark": {"type": "text", "text": "HP_DIFF 1.00000", "fontSize": 10, "color": "#000000", "align": "left", "baseline": "middle"},
       "encoding": {"x": {"datum": 0.3}, "y": {"datum": 0.63}}},
      {"data": {"name": "one"}, "mark": {"type": "text", "text": "Alpari NZ MT4, © 2001-2013, MetaQuotes Software Corp.", "fontSize": 10, "color": "#000000", "align": "left", "baseline": "middle"},
       "encoding": {"x": {"datum": 0.3}, "y": {"datum": 0.25}}},
      {"data": {"name": "one"}, "mark": {"type": "rule", "color": "#d40000", "strokeWidth": 1}, "encoding": {"x": {"datum": 65}}},
      {"data": {"name": "one"}, "mark": {"type": "rule", "color": "#d40000", "strokeWidth": 1}, "encoding": {"x": {"datum": 105}}},
      {"data": {"name": "one"}, "mark": {"type": "rect", "fill": "#ff0000"},
       "encoding": {"x": {"datum": 60}, "x2": {"datum": 69.9}, "y": {"datum": -0.08}, "y2": {"datum": -0.66}}},
      {"data": {"name": "one"}, "mark": {"type": "rect", "fill": "#ff0000"},
       "encoding": {"x": {"datum": 100}, "x2": {"datum": 109.8}, "y": {"datum": -0.08}, "y2": {"datum": -0.66}}},
      {"data": {"name": "one"}, "mark": {"type": "text", "text": "2013.05.29 10:00", "fontSize": 10, "color": "#ffffff", "align": "center", "baseline": "middle"},
       "encoding": {"x": {"datum": 64.95}, "y": {"datum": -0.37}}},
      {"data": {"name": "one"}, "mark": {"type": "text", "text": "2013.05.31 02:00", "fontSize": 10, "color": "#ffffff", "align": "center", "baseline": "middle"},
       "encoding": {"x": {"datum": 104.9}, "y": {"datum": -0.37}}}
    ]
  }
  ]
}
]
}
